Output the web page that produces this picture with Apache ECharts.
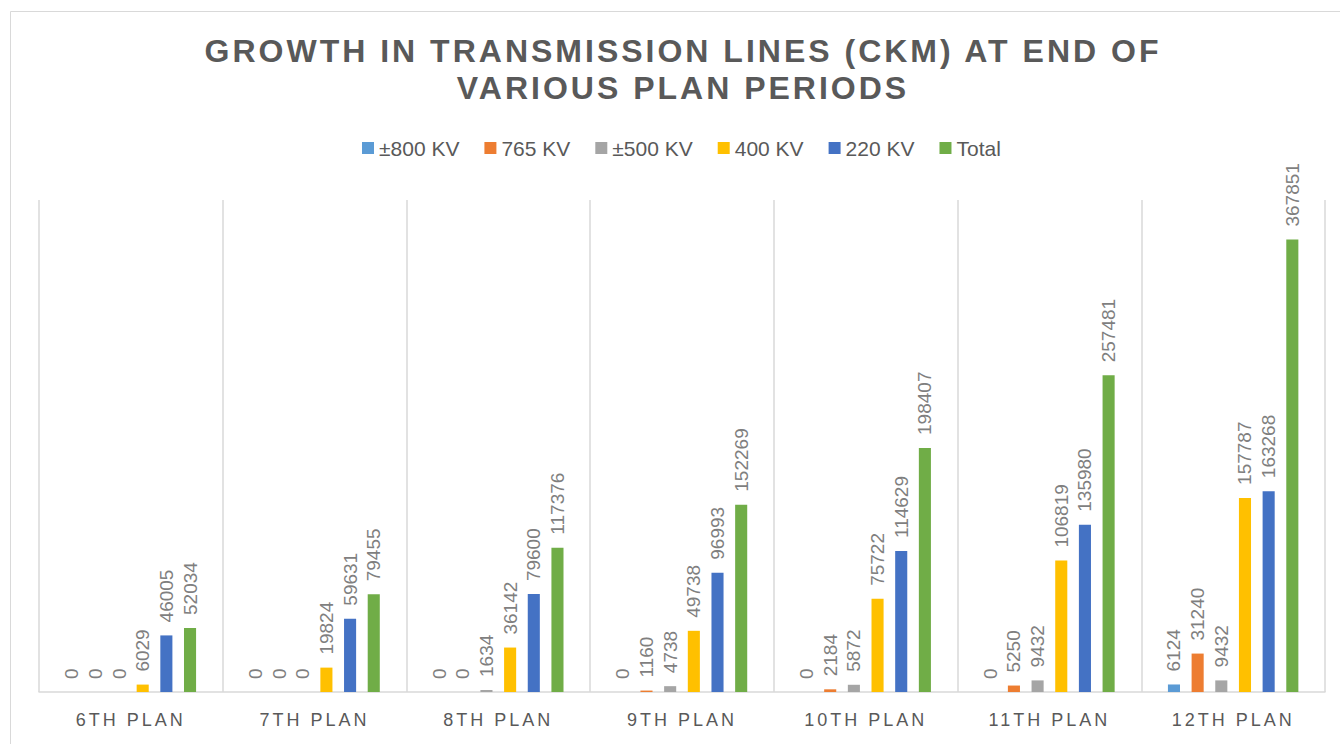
<!DOCTYPE html>
<html>
<head>
<meta charset="utf-8">
<script src="https://cdn.jsdelivr.net/npm/echarts@6/dist/echarts.min.js"></script>
<style>
  html, body { margin: 0; padding: 0; background: #fff; }
  #chart { width: 1340px; height: 744px; }
  #chart text[style*="32px"] { letter-spacing: 3px; }
  #chart text[style*="18px"] { letter-spacing: 3px; }
</style>
</head>
<body>
<div id="chart"></div>
<script>
const categories = ['6TH PLAN', '7TH PLAN', '8TH PLAN', '9TH PLAN', '10TH PLAN', '11TH PLAN', '12TH PLAN'];
const seriesNames = ['±800 KV', '765 KV', '±500 KV', '400 KV', '220 KV', 'Total'];
const kv800 = [0, 0, 0, 0, 0, 0, 6124];
const kv765 = [0, 0, 0, 1160, 2184, 5250, 31240];
const kv500 = [0, 0, 1634, 4738, 5872, 9432, 9432];
const kv400 = [6029, 19824, 36142, 49738, 75722, 106819, 157787];
const kv220 = [46005, 59631, 79600, 96993, 114629, 135980, 163268];
const total = [52034, 79455, 117376, 152269, 198407, 257481, 367851];
const colors = ['#5B9BD5', '#ED7D31', '#A5A5A5', '#FFC000', '#4472C4', '#70AD47'];

const seriesData = [kv800, kv765, kv500, kv400, kv220, total];
const FONT = "'Liberation Sans', Arial, sans-serif";

const chart = echarts.init(document.getElementById('chart'), null, { renderer: 'svg' });
chart.setOption({
  animation: false,
  color: colors,
  title: {
    text: 'GROWTH IN TRANSMISSION LINES (CKM) AT END OF\nVARIOUS PLAN PERIODS',
    left: 683,
    top: 32,
    textAlign: 'center',
    padding: 0,
    textStyle: { fontSize: 32, fontWeight: 'bold', color: '#595959', fontFamily: FONT, lineHeight: 37 }
  },
  graphic: [{
    type: 'rect',
    shape: { x: 10.5, y: 11.5, width: 1340, height: 740 },
    style: { fill: 'none', stroke: '#d9d9d9', lineWidth: 1 },
    silent: true,
    z: -1
  }],
  legend: {
    data: seriesNames,
    left: 362,
    top: 137,
    padding: 0,
    itemWidth: 12,
    itemHeight: 12,
    itemGap: 25,
    icon: 'rect',
    textStyle: { fontSize: 21, color: '#595959', fontFamily: FONT, lineHeight: 22 }
  },
  grid: { left: 39, right: 15, top: 200, bottom: 52 },
  xAxis: {
    type: 'category',
    data: categories,
    axisLine: { lineStyle: { color: '#d9d9d9', width: 1.5 } },
    axisTick: { show: false },
    splitLine: { show: true, lineStyle: { color: '#d9d9d9', width: 1.5 } },
    axisLabel: { fontSize: 18, color: '#595959', fontFamily: FONT, margin: 19 }
  },
  yAxis: {
    type: 'value',
    min: 0,
    max: 400000,
    show: false,
    splitLine: { show: false }
  },
  series: seriesData.map((d, i) => ({
    name: seriesNames[i],
    type: 'bar',
    data: d,
    barGap: '96%',
    barCategoryGap: '29%',
    label: {
      show: true,
      position: 'top',
      rotate: 90,
      align: 'left',
      verticalAlign: 'middle',
      distance: 13,
      fontSize: 19,
      color: '#7f7f7f',
      fontFamily: FONT,
      formatter: '{c}'
    }
  }))
});
</script>
</body>
</html>
